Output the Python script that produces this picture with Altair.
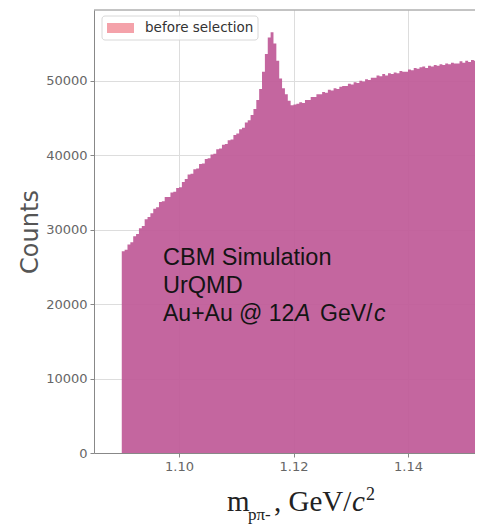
import altair as alt
import pandas as pd

# ---- data ----
bin_start = 1.0900
bin_width = 0.0005
counts = [
    27100, 27300, 28000, 28300, 29100, 29400, 30200, 30500, 31400, 31700,
    32200, 32800, 33000, 33700, 33800, 34400, 34400, 35000, 35100, 35600,
    35700, 36400, 36800, 37400, 37500, 38100, 38200, 38800, 38900, 39500,
    39600, 40100, 40200, 40800, 40900, 41400, 41500, 42000, 42100, 42700,
    42900, 43500, 43700, 44400, 44700, 45400, 46200, 47400, 48900, 51200,
    53600, 55800, 56500, 55000, 52700, 50300, 49000, 48200, 47300, 46700,
    46800, 46900, 47100, 47000, 47400, 47400, 47800, 47800, 48200, 48200,
    48500, 48400, 48800, 48700, 49000, 48900, 49200, 49300, 49300, 49600,
    49500, 49800, 49700, 50000, 49900, 50200, 50100, 50400, 50400, 50700,
    50600, 50900, 50700, 51000, 50900, 51100, 51000, 51300, 51200, 51200,
    51500, 51400, 51700, 51600, 51800, 51900, 51700, 52000, 51900, 52100,
    52000, 52200, 52100, 52300, 52200, 52400, 52300, 52300, 52600, 52400,
    52700, 52500, 52800, 52700, 52900, 52800, 52900, 53000,
]
x_ticks = [1.10, 1.12, 1.14]
y_ticks = [0, 10000, 20000, 30000, 40000, 50000]
legend_label = "before selection"
annot_lines = ["CBM Simulation", "UrQMD"]

# step-after area table built from the arrays (last edge closes final bin)
edges = [round(bin_start + i * bin_width, 4) for i in range(len(counts) + 1)]
df = pd.DataFrame({"m": edges, "count": counts + [counts[-1]]})

W, H = 381, 443
FILL = "#bf5a98"
SPINE = "#888888"

hist = alt.Chart(df).mark_area(
    interpolate="step-after", color=FILL, fillOpacity=0.93, clip=True
).encode(
    x=alt.X("m:Q", scale=alt.Scale(domain=[1.08515, 1.1517], nice=False, zero=False),
            axis=alt.Axis(values=x_ticks, format=".2f", title=None, grid=True,
                          labelFont="DejaVu Sans", labelFontSize=13, labelColor="#666666",
                          tickSize=4, tickColor=SPINE, domainColor=SPINE,
                          gridColor="#dddddd", labelPadding=3)),
    y=alt.Y("count:Q", scale=alt.Scale(domain=[0, 59500], nice=False),
            axis=alt.Axis(values=y_ticks, format="d", title="Counts", grid=True,
                          labelFont="DejaVu Sans", labelFontSize=13, labelColor="#666666",
                          tickSize=4, tickColor=SPINE, domainColor=SPINE,
                          gridColor="#dddddd", labelPadding=3,
                          titleFont="DejaVu Sans", titleFontSize=24, titleFontWeight="normal",
                          titleColor="#555555", titleAngle=270, titleX=-57, titleY=H / 2,
                          titleAlign="center", titleBaseline="alphabetic")),
)

one = alt.Data(values=[{"a": 1}])

top_rule = alt.Chart(one).mark_rule(color=SPINE, strokeWidth=1).encode(
    x=alt.value(0), x2=alt.value(W), y=alt.value(0))

# legend
leg_box = alt.Chart(one).mark_rect(
    fill="white", fillOpacity=0.85, stroke="#d8d8d8", strokeWidth=1, cornerRadius=3
).encode(x=alt.value(8), x2=alt.value(164), y=alt.value(6), y2=alt.value(30))
leg_patch = alt.Chart(one).mark_rect(fill="#f4a2aa").encode(
    x=alt.value(13), x2=alt.value(40), y=alt.value(13), y2=alt.value(23))
leg_text = alt.Chart(one).mark_text(
    align="left", baseline="alphabetic", font="DejaVu Sans", fontSize=13.5, color="#333333",
    text=legend_label
).encode(x=alt.value(51), y=alt.value(22))


def txt(s, x, y, size, font="Liberation Sans", style="normal", color="#141414"):
    return alt.Chart(one).mark_text(
        align="left", baseline="alphabetic", font=font, fontSize=size,
        fontStyle=style, color=color, text=s
    ).encode(x=alt.value(x), y=alt.value(y))


annot = [
    txt(annot_lines[0], 69, 255, 23.5),
    txt(annot_lines[1], 69, 283, 23.5),
    txt("Au+Au @ 12", 69, 311, 23),
    txt("A", 201, 311, 23, style="italic"),
    txt("GeV/", 226, 311, 23),
    txt("c", 280, 311, 23, style="italic"),
]

xtitle = [
    txt("m", 133, 501, 29, font="Liberation Serif", color="#222222"),
    txt("pπ-", 154, 510, 17, font="Liberation Serif", color="#222222"),
    txt(", GeV/", 180, 501, 29, font="Liberation Serif", color="#222222"),
    txt("c", 258, 501, 29, font="Liberation Serif", style="italic", color="#222222"),
    txt("2", 272, 490, 18, font="Liberation Serif", color="#222222"),
]

chart = alt.layer(
    hist, top_rule, leg_box, leg_patch, leg_text, *annot, *xtitle
).properties(
    width=W, height=H,
    padding={"left": 86, "top": 2, "right": 0, "bottom": 72},
    autosize=alt.AutoSizeParams(type="none"),
).configure_view(stroke=None)

chart.save("out.html", embed_options={"renderer": "svg", "actions": False})
